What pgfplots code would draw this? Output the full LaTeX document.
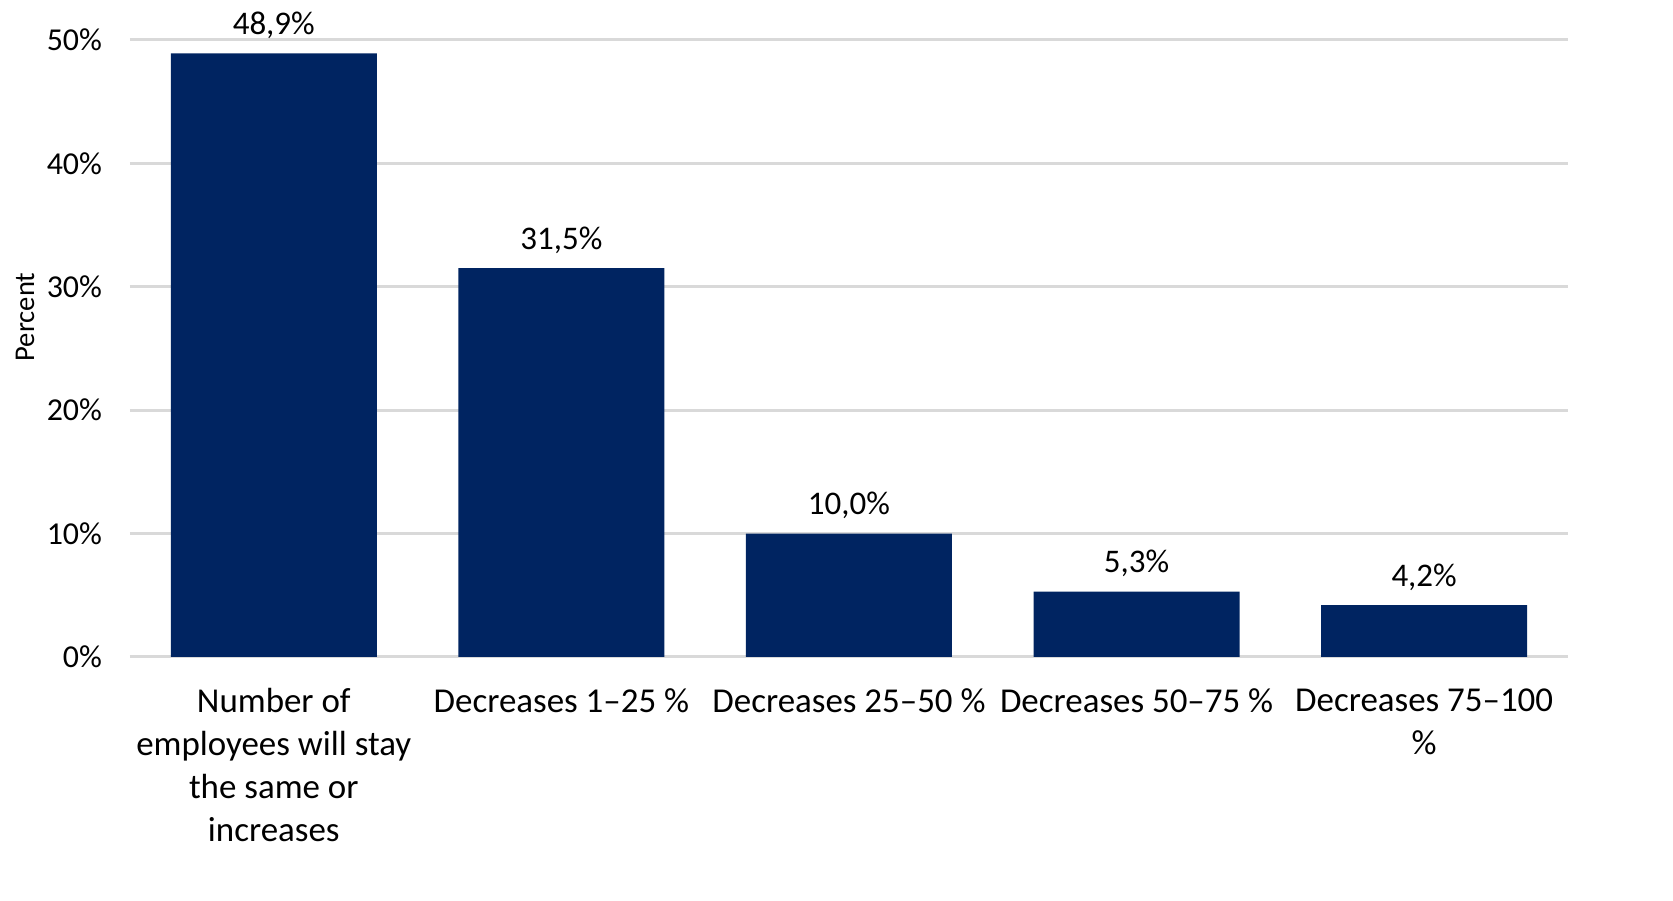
\documentclass[border=0pt]{standalone}
\usepackage{fontspec}
\setmainfont{Carlito}
\usepackage{pgfplots}
\pgfplotsset{compat=1.18}
\definecolor{barblue}{HTML}{002461}
\definecolor{gridgray}{HTML}{D9D9D9}
\begin{document}
\begin{tikzpicture}
\begin{axis}[
  width=522.9pt, height=224.4pt, scale only axis,
  xmin=-0.5, xmax=4.5, ymin=0, ymax=50,
  clip=false,
  axis line style={draw=none},
  major tick length=0pt,
  ymajorgrids, grid style={gridgray, line width=1.1pt},
  ytick={0,10,20,30,40,50},
  yticklabels={0\%,10\%,20\%,30\%,40\%,50\%},
  yticklabel style={font=\fontsize{11.6}{14}\selectfont, anchor=east, inner sep=0pt, xshift=-10pt},
  xtick=data,
  xticklabels={{Number of\\employees will stay\\the same or\\increases},{Decreases 1–25 \%},{Decreases 25–50 \%},{Decreases 50–75 \%},{Decreases 75–100\\\%}},
  xticklabel style={font=\fontsize{12.7}{15.6}\selectfont, align=center, anchor=north, inner sep=0pt, yshift=-11.3pt},
  ylabel={Percent},
  every axis y label/.style={at={(rel axis cs:0,0.551)}, rotate=90, anchor=center, yshift=38.2pt, font=\fontsize{10.4}{12}\selectfont, inner sep=0pt},
]
\addplot[ybar, bar width=74.9pt, fill=barblue, draw=none,
  nodes near coords={\pgfmathprintnumber[fixed,fixed zerofill,precision=1,use comma,assume math mode=true]{\pgfplotspointmeta}\%},
  every node near coord/.append style={font=\fontsize{12}{14}\selectfont, text=black, anchor=base, inner sep=0pt, yshift=6.8pt}]
  coordinates {(0,48.9) (1,31.5) (2,10.0) (3,5.3) (4,4.2)};
\end{axis}
\path (-47.27pt,-88.73pt) rectangle (561.1pt,238.9pt);
\end{tikzpicture}
\end{document}
